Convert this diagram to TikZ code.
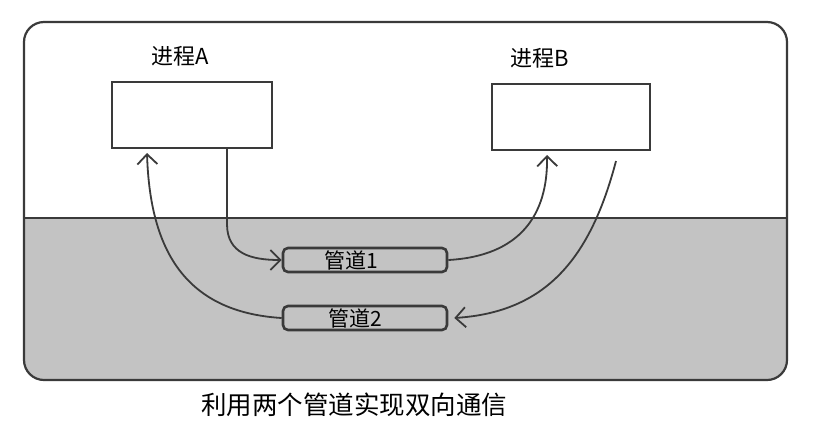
\documentclass[tikz,border=0pt]{standalone}
\usepackage{fontspec}
\setmainfont{Noto Sans CJK SC}
\usetikzlibrary{arrows.meta,calc}
\definecolor{bggray}{HTML}{C3C3C3}
\definecolor{ink}{HTML}{3A3A3A}
\tikzset{
  procbox/.style={draw=ink, line width=2pt, fill=white, minimum width=160pt, minimum height=66pt, inner sep=0pt},
  pipebox/.style={draw=ink, line width=2.6pt, fill=bggray, rounded corners=5pt, minimum width=164pt, minimum height=24pt, inner sep=0pt, font=\fontsize{21}{21}\selectfont},
  lbl/.style={font=\fontsize{22}{22}\selectfont, text=black},
  conn/.style={draw=ink, line width=1.8pt, -{Straight Barb[length=10pt,width=20pt,line width=1.8pt]}},
}
\begin{document}
\begin{tikzpicture}[x=1pt,y=-1pt]
\useasboundingbox (0,0) rectangle (833,432);
% outer frame
\begin{scope}
  \clip[rounded corners=20pt] (24,22) rectangle (787,380);
  \fill[white] (0,0) rectangle (833,218);
  \fill[bggray] (0,218) rectangle (833,432);
\end{scope}
\draw[ink, line width=2pt] (24,218) -- (787,218);
\node[draw=ink, line width=2.2pt, rounded corners=20pt, minimum width=763pt, minimum height=358pt, inner sep=0pt] (frame) at (405.5,201) {};
% processes
\node[procbox] (A) at (192,115) {};
\node[procbox, minimum width=158pt] (B) at (571,117) {};
\node[lbl] (la) at (180,56) {进程A};
\node[lbl] (lb) at (540,58) {进程B};
% pipes
\node[pipebox] (p1) at (365,260) {\hspace*{-28pt}管道1};
\node[pipebox] (p2) at (365,318) {\hspace*{-20pt}管道2};
% caption
\node[font=\fontsize{25.5}{25.5}\selectfont] (cap) at (354,405) {利用两个管道实现双向通信};
% connectors
\coordinate (a1s) at ($(A.south west)+(116,0)$);
\coordinate (a2e) at ($(A.south west)+(36,4)$);
\coordinate (b1e) at ($(B.south west)+(56,4)$);
\coordinate (b2s) at ($(B.south west)+(125,10)$);
\draw[conn] (a1s) -- ++(0,75) .. controls +(0,30) and +(-30,0) .. (p1.west);
\draw[conn] (p2.west) .. controls (185,312) and (150,250) .. (a2e);
\draw[conn] (p1.east) .. controls (520,256) and (548,215) .. (b1e);
\draw[conn] (b2s) .. controls (590,260) and (545,312) .. ($(p2.east)+(6,0)$);
\end{tikzpicture}
\end{document}
